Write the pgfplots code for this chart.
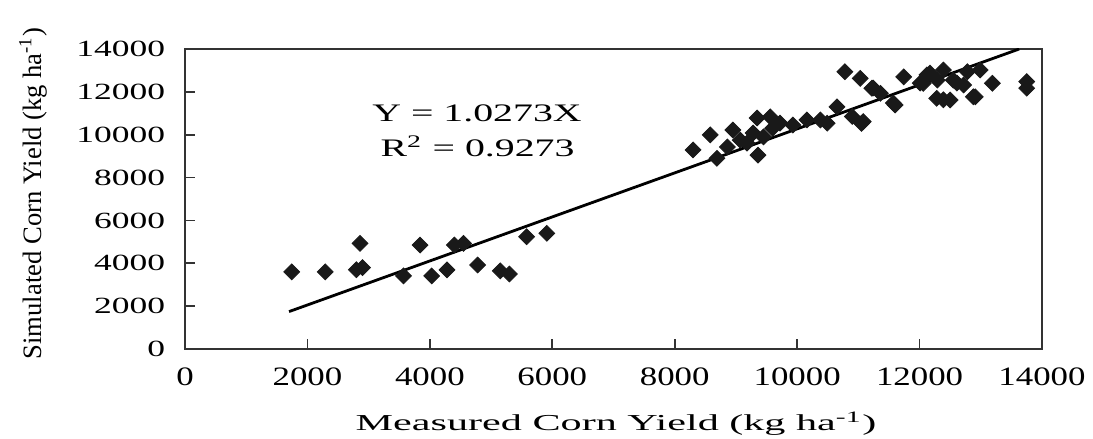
\documentclass[border=0pt]{standalone}
\usepackage{fontspec}
\setmainfont{Liberation Serif}
\usepackage{pgfplots}
\pgfplotsset{compat=1.18}

\begin{document}
\begin{tikzpicture}
\begin{axis}[
  scale only axis,
  width=428.5pt, height=150pt,
  xmin=0, xmax=14000, ymin=0, ymax=14000,
  xtick distance=2000, ytick distance=2000,
  tick align=inside, xtick pos=bottom, ytick pos=left,
  major tick length=5pt,
  axis line style={draw=black!80, line width=0.9pt},
  tick style={draw=black!80, line width=0.9pt},
  scaled ticks=false,
  /pgf/number format/assume math mode=true,
  /pgf/number format/set thousands separator={},
  xticklabel style={font=\fontsize{13.3}{14}\selectfont, xscale=1.31, yshift=-6pt},
  yticklabel style={font=\fontsize{11.6}{13}\selectfont, xscale=1.53, xshift=-3pt},
  xlabel={Measured Corn Yield (kg ha\textsuperscript{-1})},
  ylabel={Simulated Corn Yield (kg ha\textsuperscript{-1})},
  xlabel style={font=\fontsize{11.4}{12}\selectfont, xscale=1.85,
    at={(axis description cs:0.503,-0.25)}, anchor=center},
  ylabel style={font=\fontsize{13.3}{15}\selectfont,
    at={(axis description cs:-0.177,0.518)}, anchor=center},
]
% 1:1 fit line
\addplot[black, line width=1.4pt] coordinates {(1700,1746) (13628,14000)};

% measured vs simulated
\addplot[only marks, mark=square*, mark size=2.8pt,
  mark options={rotate=45, fill=black!90, draw=black!90}] table {
x y
1743 3600
2290 3600
2860 4930
2800 3700
2900 3800
3570 3410
3840 4850
4030 3410
4280 3690
4400 4850
4550 4930
4780 3920
5150 3650
5300 3500
5580 5240
5910 5400
8300 9290
8580 9990
8690 8900
8860 9430
8950 10220
9070 9750
9180 9610
9280 10080
9360 9050
9345 10780
9560 10830
9450 9900
9600 10300
9720 10540
9930 10450
10160 10690
10380 10690
10490 10540
10650 11300
10900 10850
11050 10530
11080 10610
10780 12940
11030 12630
11220 12170
11360 11930
11240 12180
11740 12700
11600 11390
11570 11480
12010 12410
12060 12400
12120 12790
12170 12870
12290 12550
12390 13020
12280 11700
12390 11630
12500 11620
12550 12550
12610 12410
12720 12320
12780 12940
12880 11770
12910 11770
12990 13020
13190 12400
13750 12480
13750 12170
};

\node[xscale=1.58] at (axis cs:4770,10990) {\fontsize{12.6}{14}\selectfont Y = 1.0273X};
\node[xscale=1.58] at (axis cs:4780,9470) {\fontsize{12.6}{14}\selectfont R\textsuperscript{2} = 0.9273};
\coordinate (O) at (rel axis cs:0,0);
\end{axis}
\pgfresetboundingbox
\path[use as bounding box] ([shift={(-92.5pt,-45pt)}]O) rectangle ([shift={(454pt,174.5pt)}]O);
\end{tikzpicture}
\end{document}
